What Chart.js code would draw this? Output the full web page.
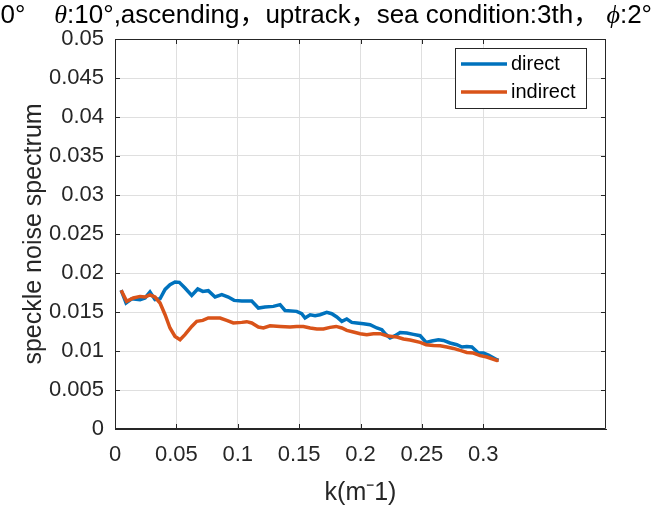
<!DOCTYPE html>
<html>
<head>
<meta charset="utf-8">
<script src="https://cdn.jsdelivr.net/npm/chart.js@4.4.0/dist/chart.umd.min.js"></script>
<style>
  html, body { margin: 0; padding: 0; background: #fff; }
  #wrap { width: 658px; height: 516px; }
</style>
</head>
<body>
<div id="wrap"><canvas id="spec"></canvas></div>
<script>
// values
var kDirect = [0.005,0.009,0.0136,0.0204,0.0245,0.0285,0.0326,0.0367,0.0408,0.0448,
  0.0489,0.0524,0.057,0.0625,0.0674,0.0715,0.076,0.0815,0.087,0.0923,
  0.097,0.1033,0.1114,0.1168,0.1222,0.129,0.1345,0.1385,0.148,0.1521,
  0.1548,0.159,0.163,0.167,0.1725,0.1766,0.1807,0.1848,0.1888,0.1929,
  0.197,0.2024,0.2078,0.2133,0.2174,0.22,0.2241,0.2282,0.2323,0.2377,
  0.2431,0.2486,0.2535,0.2581,0.2635,0.2676,0.273,0.2785,0.2826,0.2866,
  0.2907,0.2961,0.3002,0.3042,0.3111,0.3125];
var direct = [0.0178,0.01615,0.0167,0.01658,0.0168,0.01756,0.01658,0.0167,0.0179,0.0185,
  0.01885,0.0188,0.01808,0.01713,0.01795,0.01764,0.01773,0.01692,0.01722,0.01692,
  0.01649,0.0164,0.0164,0.01551,0.01564,0.01572,0.01594,0.0152,0.01508,0.01478,
  0.01423,0.01465,0.01453,0.01465,0.01495,0.01478,0.01436,0.0138,0.0141,0.01367,
  0.01359,0.0135,0.01337,0.01295,0.01273,0.01222,0.01167,0.01196,0.01238,0.01231,
  0.01213,0.01196,0.0111,0.01128,0.01145,0.01136,0.01103,0.01081,0.01051,0.01059,
  0.01051,0.00974,0.00974,0.00949,0.00888,0.0088];

var kIndirect = [0.005,0.0095,0.0149,0.0204,0.0245,0.0285,0.0326,0.0367,0.0408,0.0448,
  0.0489,0.053,0.057,0.0625,0.0666,0.0715,0.076,0.0815,0.0856,0.091,
  0.0964,0.1033,0.1073,0.1114,0.1168,0.1209,0.1263,0.1345,0.1426,0.148,
  0.1535,0.159,0.1644,0.1698,0.1752,0.1801,0.1848,0.1888,0.1942,0.1997,
  0.2051,0.2105,0.216,0.2214,0.2255,0.2296,0.235,0.2404,0.2486,0.2535,
  0.2594,0.2649,0.2703,0.2757,0.2812,0.2866,0.292,0.2975,0.3029,0.3111,0.3125];
var indirect = [0.0178,0.01636,0.0168,0.017,0.01692,0.01718,0.01692,0.01615,0.01465,0.01295,
  0.01187,0.01145,0.01209,0.01315,0.0138,0.01392,0.01423,0.01423,0.01423,0.01392,
  0.01359,0.01367,0.01376,0.01359,0.01308,0.01295,0.01324,0.01315,0.01308,0.01315,
  0.01315,0.01295,0.01282,0.01282,0.01303,0.01315,0.01295,0.01264,0.01244,0.01222,
  0.01209,0.01222,0.01222,0.01196,0.01187,0.01179,0.01154,0.0114,0.0111,0.01081,
  0.01072,0.01068,0.01051,0.01033,0.01008,0.00982,0.00974,0.0094,0.00923,0.00879,0.0088];

var seriesNames = ['direct', 'indirect'];
var kTicks = [0, 0.05, 0.1, 0.15, 0.2, 0.25, 0.3];

var axisColor = '#262626';
var gridColor = '#dfdfdf';
var sans = "'Liberation Sans', Arial, Helvetica, sans-serif";
var cjk = "'Noto Sans CJK SC', sans-serif";
var serifIt = "italic 26px 'Liberation Serif', serif";

function toPoints(xs, ys) {
  return xs.map(function(x, i) { return {x: x, y: ys[i]}; });
}

function trim(v) {
  return String(parseFloat(v.toFixed(4)));
}

// box around the axes + inward ticks, like matlab "box on"
var boxPlugin = {
  id: 'box',
  afterDraw: function(chart) {
    var c = chart.ctx, a = chart.chartArea;
    var xs = chart.scales.x, ys = chart.scales.y;
    c.save();
    c.strokeStyle = axisColor;
    c.lineWidth = 1;
    c.beginPath();
    c.rect(a.left + 0.5, a.top + 0.5, a.right - a.left - 1, a.bottom - a.top - 1);
    ys.ticks.forEach(function(t) {
      var y = Math.round(ys.getPixelForValue(t.value)) + 0.5;
      c.moveTo(a.left, y); c.lineTo(a.left + 5, y);
      c.moveTo(a.right, y); c.lineTo(a.right - 5, y);
    });
    xs.ticks.forEach(function(t) {
      var x = Math.round(xs.getPixelForValue(t.value)) + 0.5;
      c.moveTo(x, a.bottom); c.lineTo(x, a.bottom - 5);
      c.moveTo(x, a.top); c.lineTo(x, a.top + 5);
    });
    c.stroke();

    // legend box, top right inside axes
    var lx = 455, ly = 48, lw = 131, lh = 60;
    c.fillStyle = '#fff';
    c.fillRect(lx, ly, lw, lh);
    c.strokeRect(lx + 0.5, ly + 0.5, lw, lh);
    c.font = '20px ' + sans;
    c.textBaseline = 'middle';
    c.textAlign = 'left';
    chart.data.datasets.forEach(function(ds, i) {
      var yy = ly + 16 + i * 28;
      c.strokeStyle = ds.borderColor;
      c.lineWidth = 3.5;
      c.beginPath();
      c.moveTo(lx + 6, yy); c.lineTo(lx + 52, yy);
      c.stroke();
      c.fillStyle = '#000';
      c.fillText(ds.label, lx + 56, yy);
    });

    // title, runs off the left edge as in the figure
    var f = '26px ' + sans, fc = '26px ' + cjk;
    var parts = [
      ['0°    ', f],
      ['θ', serifIt],
      [':10°,ascending', f], ['，', fc],
      ['uptrack', f], ['，', fc],
      ['sea condition:3th', f], ['，', fc],
      [' ', f],
      ['ϕ', serifIt],
      [':2°', f]
    ];
    var total = 0;
    parts.forEach(function(p) { c.font = p[1]; total += c.measureText(p[0]).width; });
    var tx = 652 - total;
    c.fillStyle = '#000';
    c.textBaseline = 'alphabetic';
    parts.forEach(function(p) {
      c.font = p[1];
      c.fillText(p[0], tx, 23);
      tx += c.measureText(p[0]).width;
    });
    c.restore();
  }
};

var ctx = document.getElementById('spec');
var chart = new Chart(ctx, {
  type: 'scatter',
  data: {
    datasets: [
      {
        label: seriesNames[0],
        data: toPoints(kDirect, direct),
        showLine: true,
        borderColor: '#0072BD',
        backgroundColor: '#0072BD',
        borderWidth: 3.5,
        pointRadius: 0,
        order: 1
      },
      {
        label: seriesNames[1],
        data: toPoints(kIndirect, indirect),
        showLine: true,
        borderColor: '#D95319',
        backgroundColor: '#D95319',
        borderWidth: 3.5,
        pointRadius: 0,
        order: 0
      }
    ]
  },
  options: {
    responsive: true,
    maintainAspectRatio: false,
    animation: false,
    layout: { padding: { left: 0, right: 52, top: 39, bottom: 0 } },
    plugins: {
      legend: { display: false },
      title: { display: false },
      tooltip: { enabled: false }
    },
    scales: {
      x: {
        type: 'linear',
        min: 0,
        max: 0.4,
        afterBuildTicks: function(scale) {
          scale.ticks = kTicks.map(function(v) { return {value: v}; });
        },
        afterFit: function(scale) { scale.height = 87; },
        grid: { color: gridColor, drawTicks: false },
        border: { display: true, color: axisColor },
        ticks: {
          padding: 13,
          color: axisColor,
          font: { size: 22, family: sans },
          maxRotation: 0,
          callback: function(v) { return trim(v); }
        },
        title: {
          display: true,
          text: 'k(m⁻1)',
          color: axisColor,
          font: { size: 25, family: sans },
          padding: { top: 0, bottom: 8 }
        }
      },
      y: {
        min: 0,
        max: 0.05,
        afterFit: function(scale) { scale.width = 115; },
        grid: { color: gridColor, drawTicks: false },
        border: { display: true, color: axisColor },
        ticks: {
          stepSize: 0.005,
          padding: 11,
          color: axisColor,
          font: { size: 22, family: sans },
          callback: function(v) { return trim(v); }
        },
        title: {
          display: true,
          text: 'speckle noise spectrum',
          color: axisColor,
          font: { size: 25, family: sans },
          padding: { top: 19, bottom: 0 }
        }
      }
    }
  },
  plugins: [boxPlugin]
});
</script>
</body>
</html>
